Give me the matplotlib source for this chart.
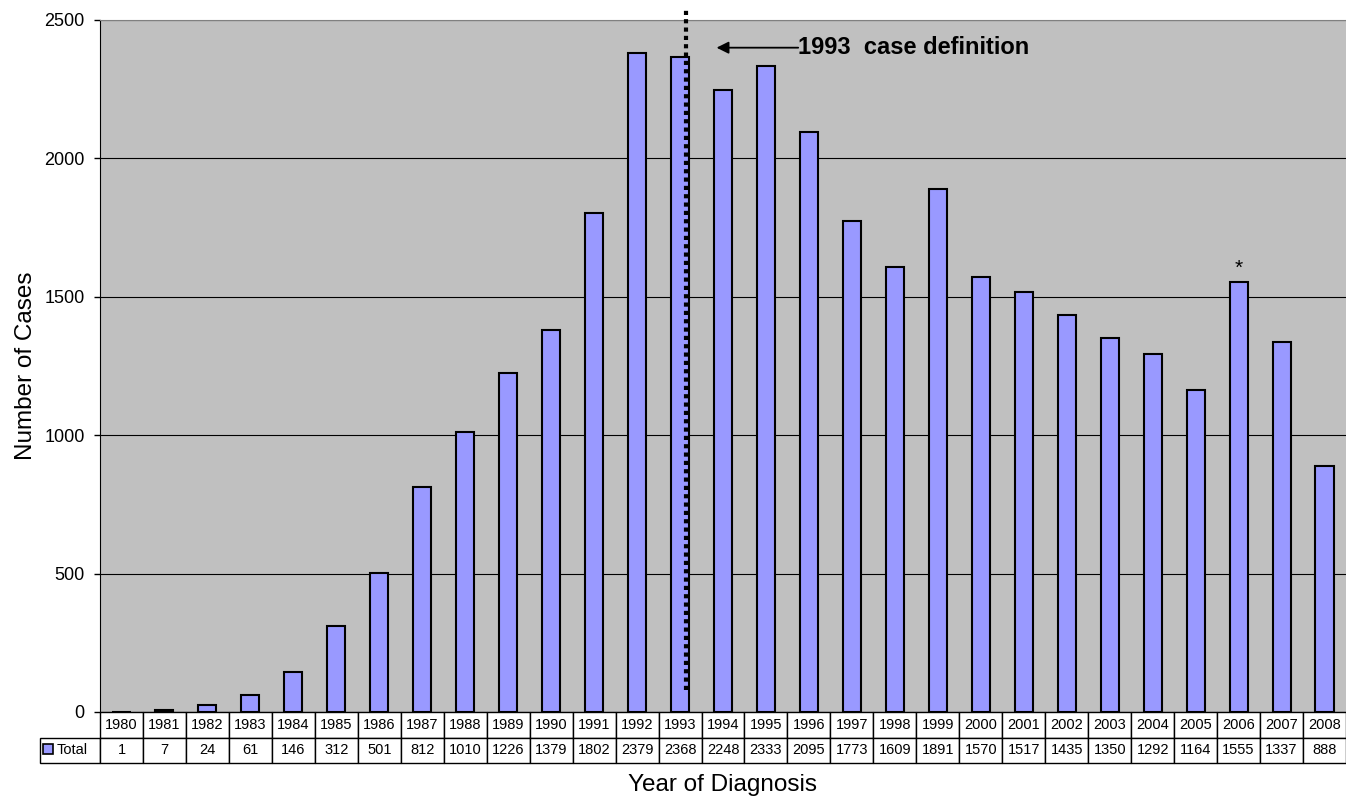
import matplotlib.pyplot as plt
import numpy as np

plt.rcParams['font.family'] = ['Liberation Sans', 'DejaVu Sans']

# data
years = [str(y) for y in range(1980, 2009)]
cases = [1, 7, 24, 61, 146, 312, 501, 812, 1010, 1226, 1379, 1802, 2379, 2368,
         2248, 2333, 2095, 1773, 1609, 1891, 1570, 1517, 1435, 1350, 1292, 1164,
         1555, 1337, 888]
yticks = [0, 500, 1000, 1500, 2000, 2500]
bar_color = '#9999FF'

fig = plt.figure(figsize=(13.46, 8.01), dpi=100)
ax = fig.add_axes([100 / 1346, 1 - 712 / 801, 1246 / 1346, 692 / 801])
ax.set_facecolor('#C0C0C0')

x = np.arange(len(years))
bars = ax.bar(x, cases, width=0.42, color=bar_color, edgecolor='black',
              linewidth=1.5, zorder=3, label='Total')

ax.set_xlim(-0.5, len(years) - 0.5)
ax.set_ylim(0, 2500)
ax.set_yticks(yticks)
ax.tick_params(axis='y', labelsize=13, length=4, width=1, pad=7)
ax.set_xticks([])
ax.yaxis.grid(True, color='black', linewidth=0.8, zorder=1)
ax.set_axisbelow(True)
ax.spines['top'].set_color('#808080')
ax.spines['right'].set_visible(False)
ax.spines['bottom'].set_visible(False)

# 1993 case definition line
ax.vlines(13.15, 80, 2545, colors='black', linestyles=(0, (1, 1)),
          linewidth=3, zorder=4, clip_on=False)
ax.annotate('', xy=(13.85, 2400), xytext=(15.75, 2400),
            arrowprops=dict(arrowstyle='-|>', color='black', lw=1.3,
                            mutation_scale=18, shrinkA=0, shrinkB=0))
ax.text(15.75, 2400, '1993  case definition', fontsize=17, fontweight='bold',
        va='center', ha='left')

# asterisk on 2006
ax.text(26, cases[26] + 15, '*', fontsize=15, ha='center', va='bottom')

# data table
tab = ax.table(cellText=[[str(c) for c in cases]], colLabels=years,
               colWidths=[1 / len(years)] * len(years),
               cellLoc='center', loc='bottom')
tab.add_cell(1, -1, width=60 / 1246, height=25.5 / 692, text='')
tab.auto_set_font_size(False)
tab.set_fontsize(10.5)
for (r, c), cell in tab.get_celld().items():
    cell.set_height(25.5 / 692)
    cell.set_linewidth(1)

leg = ax.legend(handles=[bars], labels=['Total'], loc='center left',
                bbox_to_anchor=(-57 / 1246, -38 / 692), frameon=False,
                fontsize=10.5, handlelength=0.7, handleheight=0.7,
                handletextpad=0.25, borderpad=0, borderaxespad=0)
for h in leg.legend_handles:
    h.set_linewidth(1.2)

ax.set_ylabel('Number of Cases', fontsize=17.5)
ax.yaxis.set_label_coords(-63 / 1246, 0.5)
fig.text(ax.get_position().x0 + ax.get_position().width / 2, 1 - 785 / 801,
         'Year of Diagnosis', fontsize=17.5, ha='center', va='center')

fig.savefig('out.png', dpi=100)
